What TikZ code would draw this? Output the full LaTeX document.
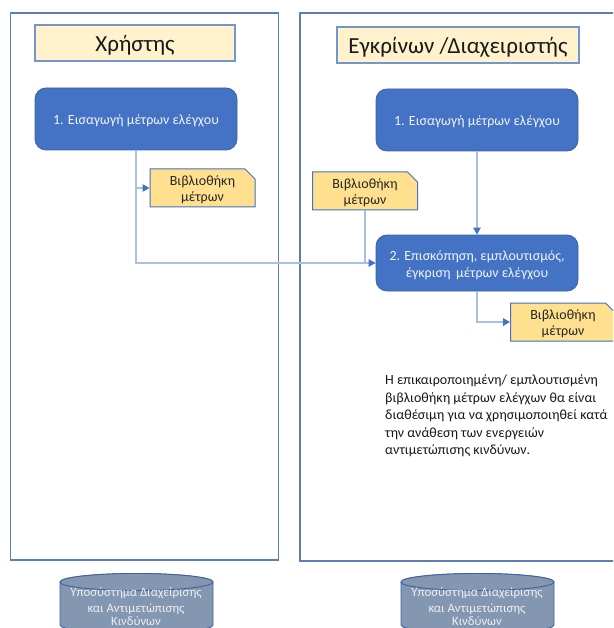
\documentclass[tikz,border=0pt]{standalone}
\usepackage{fontspec}
\setmainfont{Carlito}
\usetikzlibrary{shapes.misc,arrows.meta}
\definecolor{frameblue}{HTML}{5B7DB8}
\definecolor{boxblue}{HTML}{4472C4}
\definecolor{boxedge}{HTML}{3A62A8}
\definecolor{headfill}{HTML}{FFF2CC}
\definecolor{docfill}{HTML}{FFE08F}
\definecolor{linkblue}{HTML}{A9BFE6}
\definecolor{cylfill}{HTML}{8497B0}
\definecolor{cyledge}{HTML}{3F62A5}
\newcommand{\procgap}{\rule{0pt}{14pt}}
\newcommand{\docspace}{\phantom{\rule{80pt}{24pt}}}
\tikzset{
  x=1pt,y=-1pt,
  frame/.style={draw=frameblue,line width=1.1pt,fill=white},
  heading/.style={draw=boxblue!75!white,line width=1.1pt,fill=headfill,font=\fontsize{23}{27}\selectfont,text=black!90,inner sep=0pt,execute at begin node={\rule{0pt}{20pt}}},
  process/.style={rounded corners=11pt,fill=boxblue,draw=boxedge,line width=.8pt,text=white!92!boxblue,inner sep=0pt,align=center,font=\fontsize{14}{17}\selectfont,minimum width=202pt},
  libdoc/.style={chamfered rectangle,chamfered rectangle corners=north east,chamfered rectangle xsep=5pt,chamfered rectangle ysep=5pt,draw=boxblue,line width=1pt,fill=docfill,inner sep=0pt,minimum width=105pt,minimum height=38pt},
  libtext/.style={text=black!85,inner sep=0pt,align=center,font=\fontsize{14}{16.5}\selectfont,yshift=-1.5pt},
  link/.style={draw=linkblue,line width=1.2pt},
  linkarrow/.style={link,-{Triangle[length=7pt,width=7.5pt,color=boxblue]}},
  cyltext/.style={text=white!85!cylfill,font=\fontsize{12.8}{15}\selectfont,inner sep=0pt},
  cyl/.style={fill=cylfill,draw=cyledge,line width=.9pt}
}
\begin{document}
\begin{tikzpicture}
\useasboundingbox (0,0) rectangle (613,628);
\clip (0,0) rectangle (613,628);
\fill[white] (0,0) rectangle (613,628);
\draw[frame] (10.5,13) rectangle (278.5,560);
\draw[frame] (300,13) rectangle (630,561);
\node[heading,minimum width=200pt,minimum height=36pt] (h1) at (135,43) {Χρήστης};
\node[heading,minimum width=242pt,minimum height=36pt] (h2) at (458,45) {Εγκρίνων /Διαχειριστής};
\node[process,minimum height=62pt] (b1) at (136,119) {\procgap 1. Εισαγωγή μέτρων ελέγχου};
\node[process,minimum height=62pt] (r1) at (477,120) {\procgap 1. Εισαγωγή μέτρων ελέγχου};
\node[process,minimum height=56pt] (b2) at (477,263) {\procgap 2. Επισκόπηση, εμπλουτισμός,\\έγκριση\, μέτρων ελέγχου};
\node[libdoc,label={[libtext]center:{Βιβλιοθήκη\\μέτρων}}] (lib1) at (202.5,188) {\docspace};
\node[libdoc,label={[libtext]center:{Βιβλιοθήκη\\μέτρων}}] (lib2) at (365,191) {\docspace};
\node[libdoc,label={[libtext]center:{Βιβλιοθήκη\\μέτρων}}] (lib3) at (563,322) {\docspace};
\draw[link] (lib2.south) |- (b2.west);
\draw[linkarrow] (b1.south) |- (lib1.west);
\draw[linkarrow] (b1.south) |- (b2.west);
\draw[linkarrow] (r1.south) -- (b2.north);
\draw[linkarrow] (b2.south) |- (lib3.west);
\node[anchor=north west,inner sep=0pt,align=left,font=\fontsize{14}{17.5}\selectfont,text=black!90] (note) at (385,374.5) {Η επικαιροποιημένη/ εμπλουτισμένη\\βιβλιοθήκη μέτρων ελέγχων θα είναι\\διαθέσιμη για να χρησιμοποιηθεί κατά\\την ανάθεση των ενεργειών\\αντιμετώπισης κινδύνων.};
% cylinders
\draw[cyl] (60,582) arc[x radius=76.5,y radius=8.5,start angle=180,end angle=360] -- (213,625) arc[x radius=76.5,y radius=8.5,start angle=0,end angle=180] -- cycle;
\draw[cyl] (136.5,582) ellipse[x radius=76.5,y radius=8.5];
\draw[cyl] (401,582) arc[x radius=76.5,y radius=8.5,start angle=180,end angle=360] -- (554,625) arc[x radius=76.5,y radius=8.5,start angle=0,end angle=180] -- cycle;
\draw[cyl] (477.5,582) ellipse[x radius=76.5,y radius=8.5];
\node[cyltext] (c1a) at (136,593.5) {Υποσύστημα Διαχείρισης};
\node[cyltext] (c1b) at (136,609) {και Αντιμετώπισης};
\node[cyltext] (c1c) at (136,621.5) {Κινδύνων};
\node[cyltext] (c2a) at (477,593.5) {Υποσύστημα Διαχείρισης};
\node[cyltext] (c2b) at (477,609) {και Αντιμετώπισης};
\node[cyltext] (c2c) at (477,621.5) {Κινδύνων};
\end{tikzpicture}
\end{document}
